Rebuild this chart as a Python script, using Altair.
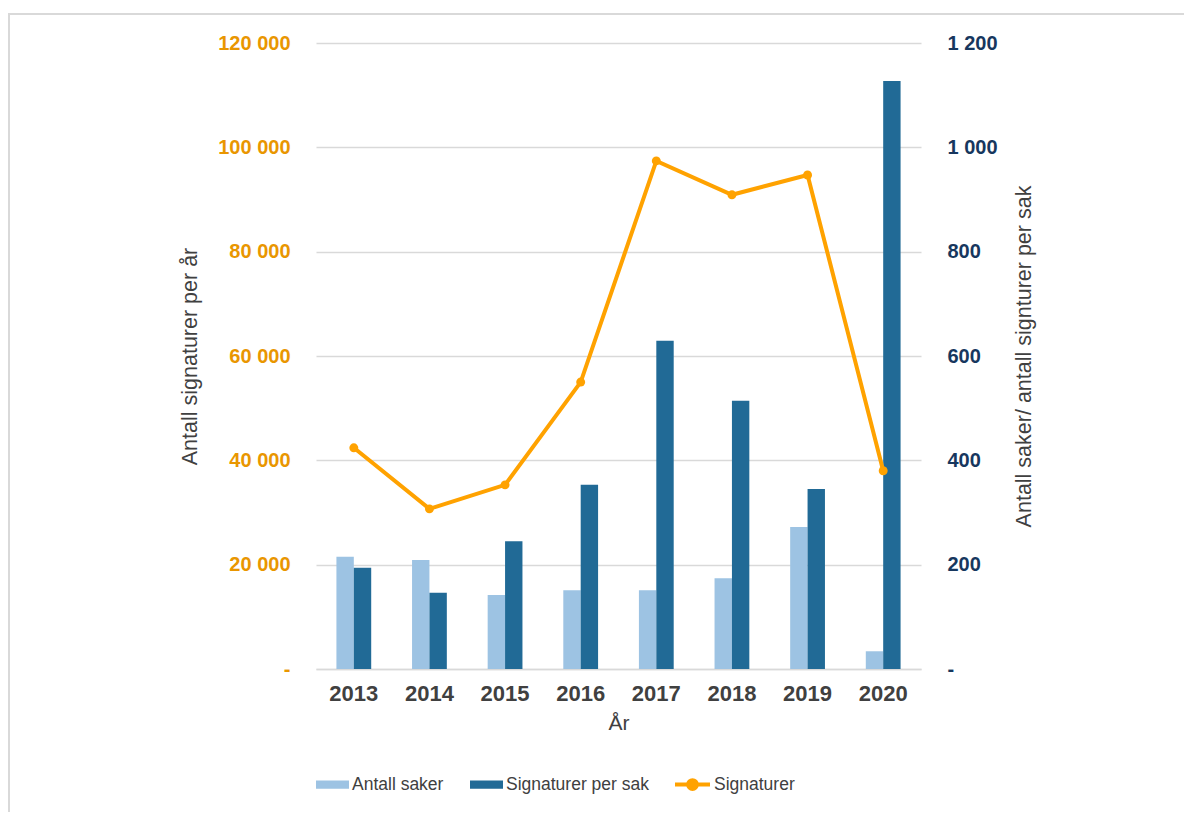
import altair as alt
import pandas as pd

years = ["2013", "2014", "2015", "2016", "2017", "2018", "2019", "2020"]
antall_saker = [215, 209, 142, 151, 151, 174, 272, 34]
signaturer_per_sak = [194, 146, 245, 353, 629, 514, 345, 1127]
signaturer = [42400, 30700, 35300, 55000, 97400, 90900, 94700, 38000]

bar_series = ["Antall saker", "Signaturer per sak"]
line_series = "Signaturer"

LIGHT = "#9DC3E3"
DARK = "#216A96"
ORANGE = "#FFA200"
ORANGE_TXT = "#E99600"
NAVY = "#17375E"
GREY = "#404040"
GRID = "#D9D9D9"
FONT = "Liberation Sans"

bars_df = pd.DataFrame(
    [{"year": y, "serie": bar_series[0], "value": v} for y, v in zip(years, antall_saker)]
    + [{"year": y, "serie": bar_series[1], "value": v} for y, v in zip(years, signaturer_per_sak)]
)
line_df = pd.DataFrame({"year": years, "value": signaturer, "serie": [line_series] * len(years)})

fmt = "datum.value == 0 ? '%s' : replace(format(datum.value, ','), regexp(',', 'g'), ' ')"

x_enc = alt.X(
    "year:N",
    sort=years,
    scale=alt.Scale(paddingInner=0.54, paddingOuter=0.27),
    axis=alt.Axis(
        title="År",
        labelAngle=0,
        labelFont=FONT,
        labelFontSize=22,
        labelFontWeight="bold",
        labelColor=GREY,
        labelPadding=14,
        titleFont=FONT,
        titleFontSize=21,
        titleFontWeight="normal",
        titleColor=GREY,
        titlePadding=8,
        ticks=False,
        grid=False,
        domainColor=GRID,
        domainWidth=1.5,
    ),
)

bar_rect = "M-1,-0.25L1,-0.25L1,0.25L-1,0.25Z"
line_sym = "M-1,0L1,0M-0.25,0A0.25,0.25 0 1,1 0.25,0A0.25,0.25 0 1,1 -0.25,0Z"

bars = alt.Chart(bars_df).mark_bar().encode(
    x=x_enc,
    xOffset=alt.XOffset("serie:N", sort=bar_series),
    y=alt.Y(
        "value:Q",
        scale=alt.Scale(domain=[0, 1200]),
        axis=alt.Axis(
            orient="right",
            values=[0, 200, 400, 600, 800, 1000, 1200],
            labelExpr=fmt % "-",
            title="Antall saker/ antall signturer per sak",
            titleAngle=-90,
            grid=False,
            domain=False,
            ticks=False,
            labelFont=FONT,
            labelFontSize=20,
            labelFontWeight="bold",
            labelColor=NAVY,
            labelPadding=26,
            titleFont=FONT,
            titleFontSize=21.5,
            titleFontWeight="normal",
            titleColor=GREY,
            titlePadding=38,
        ),
    ),
    color=alt.Color(
        "serie:N",
        sort=bar_series,
        scale=alt.Scale(domain=bar_series, range=[LIGHT, DARK]),
        legend=alt.Legend(
            title=None,
            orient="none",
            direction="horizontal",
            legendX=-1,
            legendY=724,
            symbolType=bar_rect,
            symbolSize=1089,
            symbolOpacity=1,
            labelFont=FONT,
            labelFontSize=17.5,
            labelColor=GREY,
            labelOffset=2,
            columnPadding=25,
        ),
    ),
)

left_axis = alt.Axis(
    values=[0, 20000, 40000, 60000, 80000, 100000, 120000],
    labelExpr=fmt % "-\u00a0",
    title="Antall signaturer per år",
    grid=True,
    gridColor=GRID,
    gridWidth=1.5,
    domain=False,
    ticks=False,
    labelFont=FONT,
    labelFontSize=20,
    labelFontWeight="bold",
    labelColor=ORANGE_TXT,
    labelPadding=26,
    titleFont=FONT,
    titleFontSize=21.5,
    titleFontWeight="normal",
    titleColor=GREY,
    titlePadding=16,
)

line = alt.Chart(line_df).mark_line(color=ORANGE, strokeWidth=4).encode(
    x=alt.X("year:N", sort=years, axis=alt.Axis(grid=False)),
    y=alt.Y("value:Q", scale=alt.Scale(domain=[0, 120000]), axis=left_axis),
)

points = alt.Chart(line_df).mark_circle(size=80, opacity=1).encode(
    x=alt.X("year:N", sort=years, axis=alt.Axis(grid=False)),
    y=alt.Y("value:Q", scale=alt.Scale(domain=[0, 120000]), axis=None),
    color=alt.Color(
        "serie:N",
        scale=alt.Scale(domain=[line_series], range=[ORANGE]),
        legend=alt.Legend(
            title=None,
            orient="none",
            direction="horizontal",
            legendX=357,
            legendY=722,
            symbolType=line_sym,
            symbolSize=1225,
            symbolStrokeColor=ORANGE,
            symbolStrokeWidth=4,
            symbolOpacity=1,
            labelFont=FONT,
            labelFontSize=17.5,
            labelColor=GREY,
            labelOffset=2,
        ),
    ),
)

frame = alt.Chart(pd.DataFrame({"a": [0]})).mark_rect(
    fill="transparent", stroke=GRID, strokeWidth=2
).encode(
    x=alt.value(-307), x2=alt.value(880), y=alt.value(-29), y2=alt.value(800)
)

chart = (
    alt.layer(frame, bars, line, points)
    .resolve_scale(y="independent", color="independent")
    .properties(
        width=605,
        height=626,
        background="white",
        autosize=alt.AutoSizeParams(type="none"),
        padding={"left": 308, "top": 35, "right": 263, "bottom": 143},
    )
    .configure_view(stroke=None, strokeWidth=0)
)

chart.save("out.html", embed_options={"renderer": "svg", "actions": False})
